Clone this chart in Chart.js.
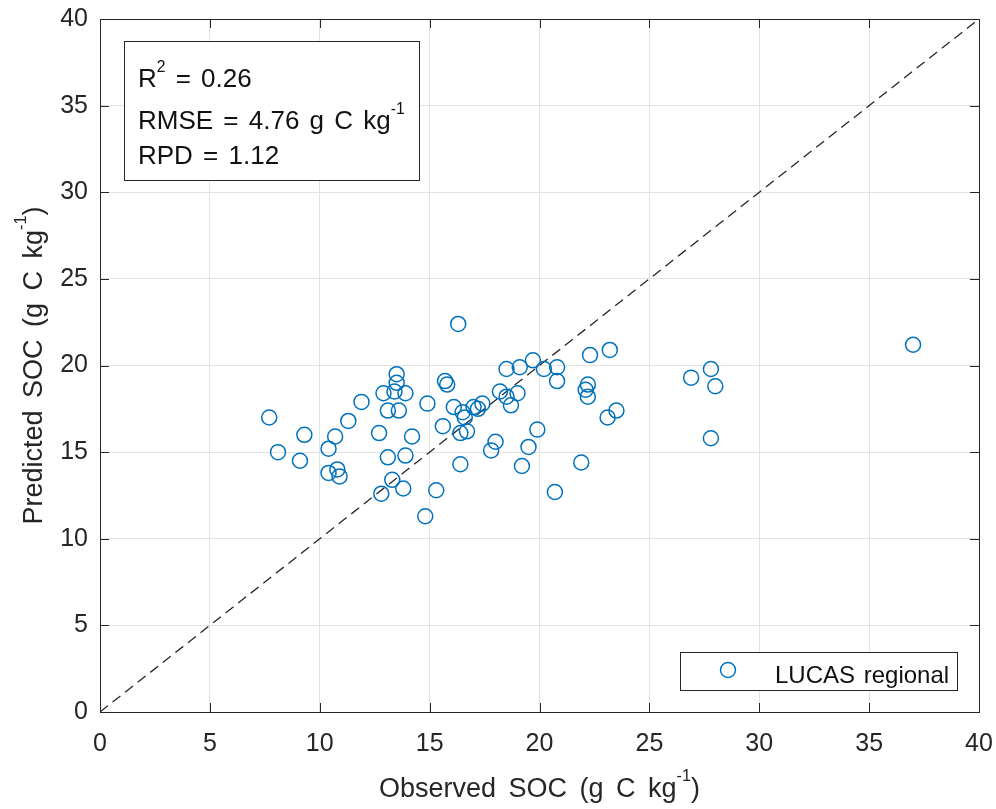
<!DOCTYPE html>
<html lang="en">
  <head>
    <meta charset="utf-8" />
    <title>Observed vs predicted SOC</title>
    <style>
      * {
        margin: 0;
        padding: 0;
      }
      body {
        background: #fff;
      }
      .chartBox {
        width: 996px;
        height: 809px;
      }
    </style>
  </head>
  <body>
    <div class="chartBox">
      <canvas id="myChart"></canvas>
    </div>
    <script src="https://cdn.jsdelivr.net/npm/chart.js"></script>
    <script>
      // data
      const observed = [
        7.7, 8.1, 9.1, 9.3, 10.4, 10.4, 10.7, 10.8, 10.9, 11.3, 11.9, 12.7,
        12.8, 12.9, 13.1, 13.1, 13.3, 13.4, 13.5, 13.5, 13.6, 13.8, 13.9, 13.9,
        14.2, 14.8, 14.9, 15.3, 15.6, 15.7, 15.8, 16.1, 16.3, 16.4, 16.4, 16.5,
        16.6, 16.7, 17.0, 17.2, 17.4, 17.8, 18.0, 18.2, 18.5, 18.5, 18.7, 19.0,
        19.1, 19.2, 19.5, 19.7, 19.9, 20.2, 20.7, 20.8, 20.8, 21.9, 22.1, 22.2,
        22.2, 22.3, 23.1, 23.2, 23.5, 26.9, 27.8, 28.0, 27.8, 37.0
      ];
      const predicted = [
        17.0, 15.0, 14.5, 16.0, 13.8, 15.2, 15.9, 14.0, 13.6, 16.8, 17.9, 16.1,
        12.6, 18.4, 17.4, 14.7, 13.4, 18.5, 19.5, 19.0, 17.4, 12.9, 14.8, 18.4,
        15.9, 11.3, 17.8, 12.8, 16.5, 19.1, 18.9, 17.6, 22.4, 14.3, 16.1, 17.3,
        17.0, 16.2, 17.6, 17.5, 17.8, 15.1, 15.6, 18.5, 19.8, 18.2, 17.7, 18.4,
        19.9, 14.2, 15.3, 20.3, 16.3, 19.8, 12.7, 19.9, 19.1, 14.4, 18.6, 18.9,
        18.2, 20.6, 17.0, 20.9, 17.4, 19.3, 19.8, 18.8, 15.8, 21.2
      ];
      const oneToOne = [0, 40];
      const tickValues = [0, 5, 10, 15, 20, 25, 30, 35, 40];
      const seriesName = "LUCAS regional";
      const statLines = [
        "R^{2} = 0.26",
        "RMSE = 4.76 g C kg^{-1}",
        "RPD = 1.12"
      ];
      const xTitle = "Observed SOC (g C kg^{-1})";
      const yTitle = "Predicted SOC (g C kg^{-1})";

      const FONT = '"Liberation Sans", Arial, sans-serif';
      const AXIS_COLOR = "#262626";
      const BLUE = "#0072BD";

      // text with ^{...} superscripts
      function parseRich(str) {
        return str
          .split(/(\^\{[^}]*\})/)
          .filter((s) => s.length)
          .map((s) =>
            s.startsWith("^{") ? { t: s.slice(2, -1), sup: true } : { t: s, sup: false }
          );
      }

      function partWidth(ctx, part, size, extra) {
        ctx.font = `${part.sup ? size * 0.6 : size}px ${FONT}`;
        const spaces = (part.t.match(/ /g) || []).length;
        return ctx.measureText(part.t).width + spaces * extra;
      }

      function drawRich(ctx, str, x, y, size, align, extra) {
        const parts = parseRich(str);
        let total = 0;
        parts.forEach((p) => (total += partWidth(ctx, p, size, extra)));
        let cx = align === "center" ? x - total / 2 : x;
        ctx.textBaseline = "alphabetic";
        ctx.textAlign = "left";
        parts.forEach((p) => {
          ctx.font = `${p.sup ? size * 0.6 : size}px ${FONT}`;
          const dy = p.sup ? -size * 0.58 : 0;
          const words = p.t.split(" ");
          words.forEach((w, i) => {
            ctx.fillText(w, cx, y + dy);
            cx += ctx.measureText(w).width;
            if (i < words.length - 1) cx += ctx.measureText(" ").width + extra;
          });
        });
        return total;
      }

      // keep the plot box where the layout padding puts it
      function noPad(s) {
        s.paddingLeft = 0;
        s.paddingRight = 0;
        s.paddingTop = 0;
        s.paddingBottom = 0;
      }

      const decorPlugin = {
        id: "decor",
        beforeDatasetsDraw(chart) {
          const { ctx, chartArea: a, scales } = chart;
          ctx.save();
          ctx.strokeStyle = AXIS_COLOR;
          ctx.lineWidth = 1;
          // top and right box lines
          ctx.beginPath();
          ctx.moveTo(a.left, a.top + 0.5);
          ctx.lineTo(a.right + 0.5, a.top + 0.5);
          ctx.lineTo(a.right + 0.5, a.bottom);
          ctx.stroke();
          // inward tick marks
          const len = 9;
          ctx.beginPath();
          tickValues.forEach((v) => {
            const px = Math.round(scales.x.getPixelForValue(v)) + 0.5;
            ctx.moveTo(px, a.bottom);
            ctx.lineTo(px, a.bottom - len);
            ctx.moveTo(px, a.top);
            ctx.lineTo(px, a.top + len);
            const py = Math.round(scales.y.getPixelForValue(v)) + 0.5;
            ctx.moveTo(a.left, py);
            ctx.lineTo(a.left + len, py);
            ctx.moveTo(a.right, py);
            ctx.lineTo(a.right - len, py);
          });
          ctx.stroke();
          ctx.restore();
        },
        afterDraw(chart) {
          const { ctx, chartArea: a } = chart;
          ctx.save();
          ctx.fillStyle = AXIS_COLOR;
          // axis titles
          drawRich(ctx, xTitle, (a.left + a.right) / 2, 797, 27, "center", 5);
          ctx.save();
          ctx.translate(42, (a.top + a.bottom) / 2);
          ctx.rotate(-Math.PI / 2);
          drawRich(ctx, yTitle, 0, 0, 27, "center", 5);
          ctx.restore();

          // stats box
          let w = 0;
          statLines.forEach((s) => {
            let lw = 0;
            parseRich(s).forEach((p) => (lw += partWidth(ctx, p, 26, 3)));
            w = Math.max(w, lw);
          });
          const bx = 124.5, by = 41.5;
          const bw = Math.round(w + 28), bh = 139;
          ctx.fillStyle = "#fff";
          ctx.fillRect(bx, by, bw, bh);
          ctx.strokeStyle = AXIS_COLOR;
          ctx.lineWidth = 1;
          ctx.strokeRect(bx, by, bw, bh);
          ctx.fillStyle = "#111";
          const baselines = [87, 129, 164];
          statLines.forEach((s, i) => drawRich(ctx, s, 138, baselines[i], 26, "left", 3));

          // legend box
          const lx = 680.5, ly = 652.5, lw = 277, lh = 38;
          ctx.fillStyle = "#fff";
          ctx.fillRect(lx, ly, lw, lh);
          ctx.strokeRect(lx, ly, lw, lh);
          ctx.strokeStyle = BLUE;
          ctx.lineWidth = 1.5;
          ctx.beginPath();
          ctx.arc(728, 670, 7.5, 0, Math.PI * 2);
          ctx.stroke();
          ctx.fillStyle = "#111";
          drawRich(ctx, seriesName, 775, 683, 24, "left", 2);
          ctx.restore();
        }
      };

      const data = {
        datasets: [
          {
            type: "scatter",
            label: seriesName,
            data: observed.map((x, i) => ({ x, y: predicted[i] })),
            pointStyle: "circle",
            pointRadius: 7.5,
            pointHoverRadius: 7.5,
            pointBorderWidth: 1.5,
            pointBorderColor: BLUE,
            pointBackgroundColor: "rgba(0,0,0,0)"
          },
          {
            type: "line",
            label: "1:1",
            data: oneToOne.map((v) => ({ x: v, y: v })),
            borderColor: AXIS_COLOR,
            borderWidth: 1.3,
            borderDash: [10, 6],
            pointRadius: 0,
            fill: false
          }
        ]
      };

      const tickFont = { family: FONT, size: 25 };

      const config = {
        type: "scatter",
        data,
        options: {
          responsive: true,
          maintainAspectRatio: false,
          animation: false,
          layout: { padding: { left: 0, top: 19, right: 17, bottom: 0 } },
          plugins: {
            legend: { display: false },
            tooltip: { enabled: false }
          },
          scales: {
            x: {
              type: "linear",
              min: 0,
              max: 40,
              afterBuildTicks: (s) => (s.ticks = tickValues.map((v) => ({ value: v }))),
              afterFit: (s) => {
                s.height = 97;
                noPad(s);
              },
              grid: { color: "#e3e3e3", drawTicks: false },
              border: { color: AXIS_COLOR, width: 1 },
              ticks: { color: AXIS_COLOR, font: tickFont, padding: 17, maxRotation: 0 }
            },
            y: {
              type: "linear",
              min: 0,
              max: 40,
              afterBuildTicks: (s) => (s.ticks = tickValues.map((v) => ({ value: v }))),
              afterFit: (s) => {
                s.width = 100;
                noPad(s);
              },
              grid: { color: "#e3e3e3", drawTicks: false },
              border: { color: AXIS_COLOR, width: 1 },
              ticks: { color: AXIS_COLOR, font: tickFont, padding: 12 }
            }
          }
        },
        plugins: [decorPlugin]
      };

      const myChart = new Chart(document.getElementById("myChart"), config);
    </script>
  </body>
</html>
